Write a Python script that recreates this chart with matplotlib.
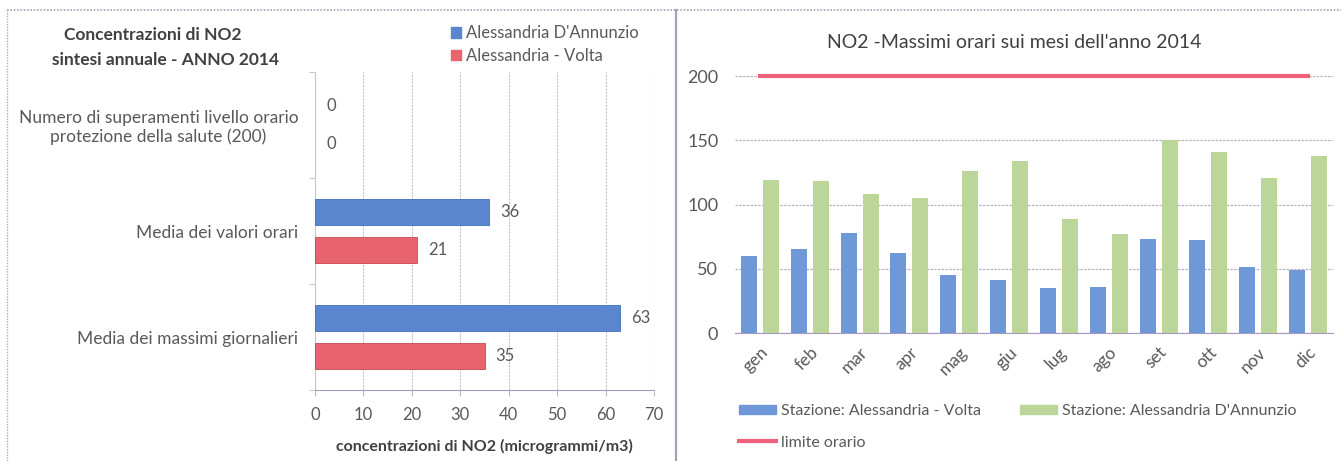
import matplotlib
matplotlib.use("Agg")
import matplotlib.pyplot as plt
import numpy as np
from matplotlib.patches import Patch
from matplotlib.lines import Line2D

plt.rcParams['font.family'] = ['Lato', 'DejaVu Sans']

# ---------------- data ----------------
left_categories = ["Numero di superamenti livello orario\nprotezione della salute (200)",
                   "Media dei valori orari",
                   "Media dei massimi giornalieri"]
dannunzio_summary = [0, 36, 63]
volta_summary = [0, 21, 35]
left_xticks = [0, 10, 20, 30, 40, 50, 60, 70]

months = ["gen", "feb", "mar", "apr", "mag", "giu", "lug", "ago", "set", "ott", "nov", "dic"]
volta_monthly = [60, 65, 78, 62, 45, 41, 35, 36, 73, 72, 51, 49]
dannunzio_monthly = [119, 118, 108, 105, 126, 134, 89, 77, 150, 141, 121, 138]
limit_monthly = [200] * 12
right_yticks = [0, 50, 100, 150, 200]

W, H = 1341, 461
fig = plt.figure(figsize=(W / 100, H / 100), dpi=100)
fig.patch.set_facecolor("white")

def ax_px(x0, y0, x1, y1):
    return fig.add_axes([x0 / W, 1 - y1 / H, (x1 - x0) / W, (y1 - y0) / H])

TXT = "#595959"
BLUE_L = "#5a86d0"
RED_L = "#e8646e"
BLUE_R = "#6f98d8"
GREEN_R = "#bcd69a"
LIMIT = "#f0607a"
GRID = "#b8b0c0"

# panel borders
fig.add_artist(Line2D([7 / W, 1341 / W], [1 - 10 / H, 1 - 10 / H], transform=fig.transFigure,
                      color="#a8a0b8", lw=1.2, ls=(0, (1, 1))))
fig.add_artist(Line2D([7 / W, 7 / W], [0, 1 - 10 / H], transform=fig.transFigure,
                      color="#b0a8c0", lw=1.0, ls=(0, (1, 1))))
fig.add_artist(Line2D([676 / W, 676 / W], [0, 1 - 10 / H], transform=fig.transFigure,
                      color="#a8a0b8", lw=1.6))

# ---------------- left chart ----------------
axL = ax_px(315, 72, 654, 390)
n = len(left_categories)
ypos = np.arange(n)
bh = 0.25
off = 0.18
bars_d = axL.barh(ypos - off, dannunzio_summary, height=bh, color=BLUE_L,
                  edgecolor=["#3f6fbf" if v else "none" for v in dannunzio_summary],
                  lw=0.6, label="Alessandria D'Annunzio", zorder=3)
bars_v = axL.barh(ypos + off, volta_summary, height=bh, color=RED_L,
                  edgecolor=["#c84850" if v else "none" for v in volta_summary],
                  lw=0.6, label="Alessandria - Volta", zorder=3)
for bars, vals in ((bars_d, dannunzio_summary), (bars_v, volta_summary)):
    for b, v in zip(bars, vals):
        axL.annotate(str(v), (v, b.get_y() + b.get_height() / 2), xytext=(8, 0),
                     textcoords="offset points", ha="left", va="center",
                     fontsize=12, color=TXT)
axL.set_ylim(n - 0.5, -0.5)
axL.set_xlim(0, 70)
axL.set_xticks(left_xticks)
axL.set_xticklabels([str(t) for t in left_xticks], fontsize=12, color=TXT)
axL.set_yticks(ypos)
axL.set_yticklabels(left_categories, fontsize=12.5, color=TXT, multialignment="center")
axL.set_yticks(np.arange(-0.5, n, 1), minor=True)
axL.tick_params(axis="y", which="major", length=0, pad=12)
axL.tick_params(axis="y", which="minor", length=4, color="#c0c0c0")
axL.tick_params(axis="x", length=4, color="#c0b8c8", pad=8)
axL.grid(axis="x", color="#c8c0d0", lw=0.8, ls=(0, (2, 1)), zorder=0)
for s in ("top", "right"):
    axL.spines[s].set_visible(False)
axL.spines["left"].set_color("#c8c8c8")
axL.spines["bottom"].set_color("#a898c0")
axL.spines["bottom"].set_linestyle((0, (1, 1)))
axL.set_xlabel("concentrazioni di NO2 (microgrammi/m3)", fontsize=11.5,
               fontweight="bold", color="#404040", labelpad=12)
fig.text(153 / W, 1 - 35 / H, "Concentrazioni di NO2",
         ha="center", va="center", fontsize=12.5, fontweight="bold", color="#404040")
fig.text(166 / W, 1 - 60 / H, "sintesi annuale - ANNO 2014",
         ha="center", va="center", fontsize=12.5, fontweight="bold", color="#404040")
fig.legend(handles=[Patch(color=BLUE_L), Patch(color=RED_L)],
           labels=["Alessandria D'Annunzio", "Alessandria - Volta"],
           loc="upper left", bbox_to_anchor=(443 / W, 1 - 17 / H), frameon=False,
           fontsize=12, handlelength=0.6, handleheight=0.6, handletextpad=0.3,
           labelspacing=0.4, labelcolor=TXT, borderpad=0)

# ---------------- right chart ----------------
axR = ax_px(735, 76, 1333, 333)
x = np.arange(len(months))
w = 0.32
axR.bar(x - 0.22, volta_monthly, width=w, color=BLUE_R, zorder=3,
        label="Stazione: Alessandria - Volta")
axR.bar(x + 0.22, dannunzio_monthly, width=w, color=GREEN_R, zorder=3,
        label="Stazione: Alessandria D'Annunzio")
axR.plot(x, limit_monthly, color=LIMIT, lw=3, zorder=4, clip_on=False,
         label="limite orario")
axR.set_xlim(-0.5, len(months) - 0.5)
axR.set_ylim(0, 200)
axR.set_yticks(right_yticks)
axR.set_yticklabels([str(t) for t in right_yticks], fontsize=13, color=TXT)
axR.set_xticks(x)
axR.set_xticklabels(months, rotation=45, ha="right", rotation_mode="anchor",
                    fontsize=12.5, color=TXT)
axR.tick_params(axis="y", length=0, pad=12)
axR.tick_params(axis="x", length=0, pad=8)
axR.grid(axis="y", color=GRID, lw=0.9, ls=(0, (2, 1)), zorder=0)
for s in ("top", "right", "left"):
    axR.spines[s].set_visible(False)
axR.spines["bottom"].set_color("#a898c0")
axR.spines["bottom"].set_linestyle((0, (1, 1)))
fig.text(1014 / W, 1 - 42 / H, "NO2 -Massimi orari sui mesi dell'anno 2014",
         ha="center", va="center", fontsize=14, color="#404040")
hb = [Patch(color=BLUE_R), Patch(color=GREEN_R), Line2D([], [], color=LIMIT, lw=3)]
fig.legend(handles=[hb[0], hb[2], hb[1]],
           labels=["Stazione: Alessandria - Volta", "limite orario",
                   "Stazione: Alessandria D'Annunzio"],
           ncol=2, loc="upper left", bbox_to_anchor=(731 / W, 1 - 396 / H), frameon=False,
           fontsize=11.5, handlelength=2.3, handleheight=0.5, handletextpad=0.3,
           labelspacing=1.1, columnspacing=2.5, labelcolor=TXT, borderpad=0)

fig.savefig("out.png", dpi=100, facecolor="white")
